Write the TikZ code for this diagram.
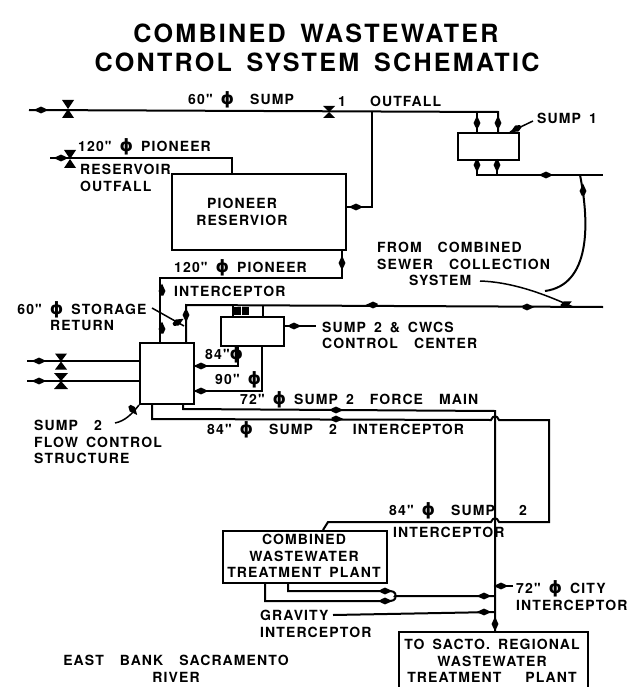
\documentclass[tikz,border=0pt]{standalone}
\usepackage{fontspec}
\setmainfont{TeX Gyre Heros}[BoldFont={* Bold}]
\newfontfamily\lblfam{TeX Gyre Heros Bold}[LetterSpace=8,WordSpace=1.6]
\newfontfamily\ttlfam{TeX Gyre Heros Bold}[LetterSpace=9,WordSpace=1.6]
\newfontfamily\phifam{DejaVu Sans Bold}
\newcommand{\ph}{{\phifam\fontsize{17}{16.6}\selectfont ϕ}}
\usetikzlibrary{arrows.meta}
\tikzset{
  pipe/.style={draw=black,line width=2pt,line join=miter},
  thinlead/.style={draw=black,line width=1.5pt},
  boxn/.style={draw=black,line width=2.1pt,inner sep=0pt,anchor=north west},
  lbl/.style={inner sep=0pt,text=black,font=\fontsize{14}{16.6}\selectfont\lblfam,align=left,anchor=west},
  lblc/.style={lbl,align=center,anchor=center},
  ttl/.style={inner sep=0pt,font=\fontsize{25.1}{29}\selectfont\ttlfam,anchor=center}
}
% flow marker: position, angle
\newcommand{\mk}[3]{\fill[black,shift={(#1,#2)},rotate=#3] (6.5,0) -- (-1,3.4) -- (-5.5,1.4) -- (-5.5,-1.4) -- (-1,-3.4) -- cycle;}
% hourglass valve: x, y, half width, half height
\newcommand{\valve}[4]{\fill[black] (#1-#3,#2-#4) -- (#1+#3,#2-#4) -- (#1-#3,#2+#4) -- (#1+#3,#2+#4) -- cycle;}
\begin{document}
\begin{tikzpicture}[x=1pt,y=-1pt]
\useasboundingbox (0,0) rectangle (629,687);
\clip (0,0) rectangle (629,687);
\fill[white] (0,0) rectangle (629,687);

% boxes
\node[boxn,minimum width=61pt,minimum height=27pt] (sumpone) at (457,132) {};
\node[boxn,minimum width=174pt,minimum height=76pt] (res) at (171,173) {};
\node[boxn,minimum width=54pt,minimum height=61pt] (flow) at (139,342) {};
\node[boxn,minimum width=63pt,minimum height=29pt] (ctrl) at (220,316) {};
\node[boxn,minimum width=164pt,minimum height=52pt] (cwtp) at (222,530) {};
\node[boxn,minimum width=189pt,minimum height=80pt] (sacto) at (398,631) {};

% named junctions
\foreach \n/\x/\y in {
 ta/29/110, tb/498/112, ua/477/112, ub/477/132, uc/498/132,
 la/477/159, lb/497/159, lc/477/175, ld/497/175, le/603/175,
 va/372/112, vb/372/207, vc/345/207,
 oa/50/158, ob/232/158, oc/232/173,
 ia/342/249, ib/342/278, ic/160/278, id/160/342,
 sa/186/342, sb/186/305, sc/603/307,
 cu1/233/305, cu2/233/316, cu3/263/305, cu4/263/316,
 co1/283/326, co2/316/326,
 fa/139/361, fb/27/361, fc/139/381, fd/27/381,
 pa/238/345, pb/238/366, pc/193/366,
 qa/262/345, qb/262/391, qc/193/391,
 ra/183/403, rb/183/409, rc/495/411, rd/495/631,
 wa/152/403, wb/152/419, wc/491/420, wd/499/420, we/549/420, wf/549/522, wg/499/522, wh/491/522, wi/328/522, wj/323/530,
 ga/288/582, gb/288/591, gc/390/591, gd/265/582, ge/265/601, gf/390/601, gg/395/596, gh/495/596,
 ka/333/615, kb/495/612,
 ma/513/586, mb/496/586,
 c1/580/175, c2/545/291, l1/480/281, l2/573/307,
 s1a/533/121, s1b/510/132, s2a/115/423, s2b/139/405, sta/152/308, stb/184/326} {\coordinate (\n) at (\x,\y);}

% pipes
\draw[pipe] (ta) -- (tb) -- (uc);
\draw[pipe] (ua) -- (ub);
\draw[pipe] (la) -- (lc) -- (le);
\draw[pipe] (lb) -- (ld);
\draw[pipe] (va) -- (vb) -- (vc);
\draw[pipe] (oa) -- (ob) -- (oc);
\draw[pipe] (ia) -- (ib) -- (ic) -- (id);
\draw[pipe] (sa) -- (sb) -- (sc);
\draw[pipe] (cu1) -- (cu2);
\draw[pipe] (cu3) -- (cu4);
\draw[pipe] (co1) -- (co2);
\draw[pipe] (fa) -- (fb);
\draw[pipe] (fc) -- (fd);
\draw[pipe] (pa) -- (pb) -- (pc);
\draw[pipe] (qa) -- (qb) -- (qc);
\draw[pipe] (ra) -- (rb) -- (rc) -- (rd);
\draw[pipe] (wa) -- (wb) -- (wc) .. controls (493,415) and (497,415) .. (wd) -- (we) -- (wf) -- (wg) .. controls (497,517) and (493,517) .. (wh) -- (wi) -- (wj);
\draw[pipe] (ga) -- (gb) -- (gc) .. controls (396,591) and (396,596) .. (gg) -- (gh);
\draw[pipe] (gd) -- (ge) -- (gf) .. controls (396,601) and (396,596) .. (gg);
\draw[pipe] (ka) -- (kb);
\draw[pipe] (ma) -- (mb);
\draw[pipe] (c1) .. controls (590,225) and (590,285) .. (c2);
\draw[thinlead] (l1) .. controls (510,282) and (540,292) .. (l2);
\draw[thinlead] (s1a) -- (s1b);
\draw[thinlead] (s2a) .. controls (125,421) and (132,414) .. (s2b);
\draw[thinlead] (sta) -- (stb);

% valves
\valve{68}{109}{6}{9}
\valve{329}{112}{6}{6}
\valve{70}{159}{6}{9}
\valve{61}{361.5}{6}{8}
\valve{61}{381}{7}{8}
\fill[black] (233,307) rectangle (249,315);
\fill[white] (240.5,306) rectangle (241.5,316);

% flow markers
\mk{40}{110}{180}
\mk{60}{158}{180}
\mk{38}{361}{180}
\mk{38}{381}{180}
\mk{477}{122}{90}
\mk{498}{122}{90}
\mk{477}{166}{270}
\mk{497}{166}{270}
\mk{545}{175}{180}
\mk{583}{190}{90}
\mk{355}{207}{180}
\mk{342}{262}{90}
\mk{162}{290}{90}
\mk{162}{328}{90}
\mk{186}{316}{270}
\mk{372}{305}{180}
\mk{528}{307}{0}
\mk{566}{304}{25}
\mk{200}{366}{180}
\mk{200}{391}{180}
\mk{337}{410}{0}
\mk{337}{419}{0}
\mk{386}{591}{0}
\mk{386}{601}{0}
\mk{483}{596}{180}
\mk{483}{612}{180}
\mk{500}{586}{180}
\mk{495}{623}{90}
\mk{295}{326}{0}
\mk{133}{410}{-50}
\mk{178}{322}{30}
\mk{516}{129}{-150}

% title
\node[ttl] (t1) at (316,33) {COMBINED WASTEWATER};
\node[ttl] (t2) at (317,62) {CONTROL SYSTEM SCHEMATIC};

% labels
\node[lbl] (n1) at (188,100) {60" \ph\ \ SUMP};
\node[lbl] (n2) at (338,101) {1\ \ \ OUTFALL};
\node[lbl] (n3) at (78,147) {120" \ph\ PIONEER};
\node[lbl] (n4) at (80,178) {RESERVOIR\\OUTFALL};
\node[lblc] (n5) at (242,212) {PIONEER\\RESERVIOR};
\node[lbl] (n6) at (174,268) {120" \ph\ PIONEER};
\node[lbl] (n7) at (174,291) {INTERCEPTOR};
\node[lblc] (n8) at (82,316) {60" \ph\ STORAGE\\RETURN};
\node[lbl] (n9) at (537,118) {SUMP\ 1};
\node[lbl] (n10) at (377,264) {FROM\ \ COMBINED\\SEWER\ \ COLLECTION\\\hspace*{32pt}SYSTEM};
\node[lbl] (n11) at (322,335.5) {SUMP 2 \& CWCS\\CONTROL\ \ CENTER};
\node[lbl] (n12) at (205,355) {84"\ph};
\node[lbl] (n13) at (215,380) {90" \ph};
\node[lbl] (n14) at (240,400) {72" \ph\ SUMP 2\ \ FORCE\ \ MAIN};
\node[lbl] (n15) at (207,430) {84" \ph\ \ SUMP\ \ 2\ \ INTERCEPTOR};
\node[lbl] (n16) at (34,442) {SUMP\ \ 2\\FLOW CONTROL\\STRUCTURE};
\node[lbl] (n17) at (389,511) {84" \ph\ \ SUMP\ \ \ 2};
\node[lbl] (n18) at (393,532) {INTERCEPTOR};
\node[lblc] (n19) at (304,556) {COMBINED\\WASTEWATER\\TREATMENT PLANT};
\node[lbl] (n20) at (260,624) {GRAVITY\\INTERCEPTOR};
\node[lbl] (n21) at (516,595.5) {72" \ph\ CITY\\INTERCEPTOR};
\node[lblc] (n22) at (492,661) {TO SACTO. REGIONAL\\WASTEWATER\\TREATMENT\ \ \ PLANT};
\node[lblc] (n23) at (176,669) {EAST\ \ BANK\ \ SACRAMENTO\\RIVER};
\end{tikzpicture}
\end{document}
